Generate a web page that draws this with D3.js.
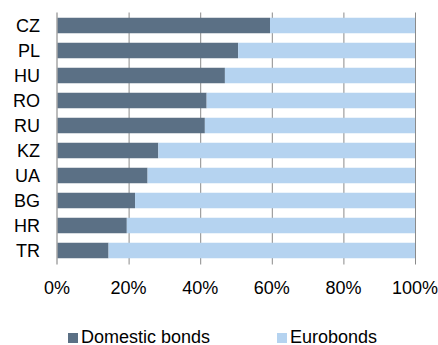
<!DOCTYPE html>
<html><head><meta charset="utf-8">
<script src="https://cdn.jsdelivr.net/npm/d3@7"></script>
<style>body{margin:0;background:#fff}svg{display:block}text{font-family:"Liberation Sans",Arial,sans-serif;fill:#000}</style>
</head><body><svg id="c" width="438" height="345"></svg>
<script>
const categories = ["CZ","PL","HU","RO","RU","KZ","UA","BG","HR","TR"];
const domestic = [59.5,50.6,46.9,41.8,41.3,28.3,25.3,21.8,19.5,14.4];
const eurobonds = domestic.map(d => 100 - d);
const ticks = [0,20,40,60,80,100];
const seriesNames = ["Domestic bonds","Eurobonds"];
const colors = ["#5b7085","#b5d3f0"];

const svg = d3.select("#c");
const x = d3.scaleLinear().domain([0,100]).range([57,415]);
const y = d3.scaleBand().domain(categories).range([13,263]).paddingInner(0.38).paddingOuter(0.19);

// gridlines
svg.append("g").selectAll("line").data(ticks.slice(1)).join("line")
  .attr("x1", d => x(d)).attr("x2", d => x(d)).attr("y1", 12.5).attr("y2", 264.5)
  .attr("stroke", "#8a8a8a").attr("stroke-width", 1)
  .attr("transform","translate(0.5,0)");

const rows = categories.map((c,i) => ({c, vals:[domestic[i], eurobonds[i]]}));
const g = svg.append("g");
rows.forEach(r => {
  let acc = 0;
  r.vals.forEach((v,j) => {
    g.append("rect").attr("x", x(acc)).attr("width", x(acc+v)-x(acc))
      .attr("y", y(r.c)).attr("height", y.bandwidth()).attr("fill", colors[j]);
    acc += v;
  });
});

// left axis line
svg.append("line").attr("x1", x(0)).attr("x2", x(0)).attr("y1", 12.5).attr("y2", 264.5)
  .attr("stroke", "#a6a6a6").attr("stroke-width", 1.5);

// category labels
svg.append("g").selectAll("text").data(categories).join("text")
  .attr("x", 40).attr("y", d => y(d) + y.bandwidth()/2 + 6.5)
  .attr("text-anchor","end").attr("font-size", 18).text(d => d);

// x tick labels
svg.append("g").selectAll("text").data(ticks).join("text")
  .attr("x", d => x(d)).attr("y", 294).attr("text-anchor","middle")
  .attr("font-size", 18).text(d => d + "%");

// legend
const legX = [68, 277];
seriesNames.forEach((n,i) => {
  svg.append("rect").attr("x", legX[i]).attr("y", 333).attr("width", 10).attr("height", 10).attr("fill", colors[i]);
  svg.append("text").attr("x", legX[i] + 13).attr("y", 342.5).attr("font-size", 18).text(n);
});
</script></body></html>
